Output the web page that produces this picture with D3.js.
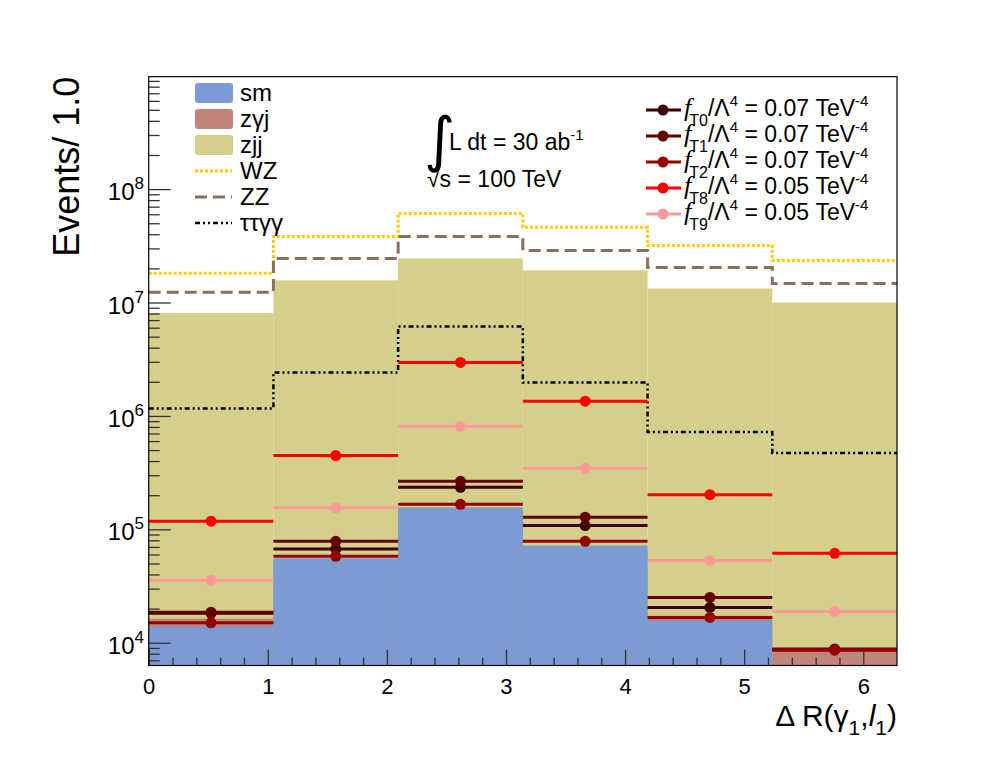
<!DOCTYPE html>
<html>
<head>
<meta charset="utf-8">
<script src="https://cdn.jsdelivr.net/npm/d3@7"></script>
<style>
  body { margin: 0; background: #fff; }
  svg { font-family: "Liberation Sans", Arial, sans-serif; }
</style>
</head>
<body>
<div id="container"></div>
<script>
// bins of Delta R, 6 bins from 0 to 2pi
const nBins = 6;
const xMax = 2 * Math.PI;

// background histograms (events per bin)
const sm   = [1.39e4, 5.55e4, 1.56e5, 7.2e4, 1.57e4, 0];
const zgj  = [1.63e4, 5.2e4, 1.45e5, 6.6e4, 1.73e4, 8.5e3];
const zjj  = [8.1e6, 1.57e7, 2.45e7, 1.92e7, 1.33e7, 1.0e7];
const wz   = [1.81e7, 3.83e7, 6.1e7, 4.6e7, 3.19e7, 2.35e7];
const zz   = [1.23e7, 2.45e7, 3.83e7, 2.88e7, 2.04e7, 1.47e7];
const ttgg = [1.16e6, 2.42e6, 6.15e6, 1.97e6, 7.2e5, 4.72e5];

// signal points
const fT0 = [1.82e4, 6.7e4, 2.35e5, 1.08e5, 2.05e4, 8.7e3];
const fT1 = [1.86e4, 7.84e4, 2.65e5, 1.28e5, 2.51e4, 8.8e3];
const fT2 = [1.5e4, 5.78e4, 1.66e5, 7.84e4, 1.67e4, 8.6e3];
const fT8 = [1.18e5, 4.47e5, 2.96e6, 1.35e6, 2.02e5, 6.14e4];
const fT9 = [3.55e4, 1.55e5, 8.1e5, 3.45e5, 5.3e4, 1.89e4];

const signalNames = ["T0", "T1", "T2", "T8", "T9"];
const signalCoupling = ["0.07", "0.07", "0.07", "0.05", "0.05"];

const xTicks = [0, 1, 2, 3, 4, 5, 6];
const yDecades = [1e4, 1e5, 1e6, 1e7, 1e8];

//THE SVG
const w = 998;
const h = 775;
const pLeft = 148.7, pRight = 897, pTop = 76.7, pBottom = 665.5;

const svg = d3.select("#container")
              .append("svg")
              .attr("width", w)
              .attr("height", h);

//THE SCALES
const xScale = d3.scaleLinear().domain([0, xMax]).range([pLeft, pRight]);
const yScale = d3.scaleLog().domain([6300, 9.8e8]).range([pBottom, pTop]);

const edges = d3.range(nBins + 1).map(i => i * xMax / nBins);
const bins = d3.range(nBins).map(i => ({lo: edges[i], hi: edges[i + 1], c: (edges[i] + edges[i + 1]) / 2}));

svg.append("clipPath").attr("id", "plot")
   .append("rect").attr("x", pLeft).attr("y", pTop).attr("width", pRight - pLeft).attr("height", pBottom - pTop);

const plot = svg.append("g").attr("clip-path", "url(#plot)");

//FILLED HISTOGRAMS (overlaid, biggest first)
function drawFilled(vals, color) {
  plot.append("g")
      .selectAll("rect")
      .data(bins.map((b, i) => ({...b, v: vals[i]})).filter(d => d.v > 0))
      .enter()
      .append("rect")
      .attr("x", d => xScale(d.lo))
      .attr("width", d => xScale(d.hi) - xScale(d.lo))
      .attr("y", d => yScale(d.v))
      .attr("height", d => pBottom - yScale(d.v))
      .attr("fill", color);
}
drawFilled(zjj, "#d4cf8a");
drawFilled(zgj, "#c0847a");
drawFilled(sm, "#7b9bd2");

//STEP LINES
const step = d3.line()
               .x(d => xScale(d[0]))
               .y(d => yScale(d[1]))
               .curve(d3.curveStepAfter);
function drawStep(vals, color, width, dash) {
  const pts = vals.map((v, i) => [edges[i], v]);
  pts.push([xMax, vals[vals.length - 1]]);
  plot.append("path")
      .attr("d", step(pts))
      .attr("fill", "none")
      .attr("stroke", color)
      .attr("stroke-width", width)
      .attr("stroke-dasharray", dash);
}
const styles = {
  wz:   {color: "#ffcc00", width: 3, dash: "3,2"},
  zz:   {color: "#8c6e5e", width: 3, dash: "12,6"},
  ttgg: {color: "#000000", width: 2.5, dash: "5,3,2,3,2,3"}
};
drawStep(wz, styles.wz.color, styles.wz.width, styles.wz.dash);
drawStep(zz, styles.zz.color, styles.zz.width, styles.zz.dash);
drawStep(ttgg, styles.ttgg.color, styles.ttgg.width, styles.ttgg.dash);

//SIGNAL POINTS
const signals = [fT0, fT1, fT2, fT8, fT9];
const signalColors = ["#400000", "#660000", "#990000", "#ff0000", "#ff9999"];
signals.forEach((vals, k) => {
  const g = plot.append("g");
  const d = bins.map((b, i) => ({...b, v: vals[i]}));
  g.selectAll("line").data(d).enter().append("line")
   .attr("x1", b => xScale(b.lo)).attr("x2", b => xScale(b.hi))
   .attr("y1", b => yScale(b.v)).attr("y2", b => yScale(b.v))
   .attr("stroke", signalColors[k]).attr("stroke-width", 3);
  g.selectAll("circle").data(d).enter().append("circle")
   .attr("cx", b => xScale(b.c)).attr("cy", b => yScale(b.v))
   .attr("r", 5.5).attr("fill", signalColors[k]);
});

//THE AXES (ROOT style, ticks inside)
const minorY = [];
[1e3, 1e4, 1e5, 1e6, 1e7, 1e8].forEach(dec => {
  for (let m = 2; m <= 9; m++) {
    const v = m * dec;
    if (v > 6300 && v < 9.8e8) minorY.push(v);
  }
});
const minorX = d3.range(0, 31).map(i => i * 0.2).filter(v => v < xMax && Math.abs(v - Math.round(v)) > 1e-6);

const axes = svg.append("g").attr("stroke-width", 1);
axes.append("g").attr("transform", `translate(${pLeft},0)`)
    .call(d3.axisLeft(yScale).tickValues(yDecades).tickSizeInner(-22).tickSizeOuter(0).tickFormat(""));
axes.append("g").attr("transform", `translate(${pLeft},0)`)
    .call(d3.axisLeft(yScale).tickValues(minorY).tickSizeInner(-11).tickSizeOuter(0).tickFormat(""));
axes.append("g").attr("transform", `translate(0,${pBottom})`)
    .call(d3.axisBottom(xScale).tickValues(xTicks).tickSizeInner(-16).tickSizeOuter(0).tickPadding(13).tickFormat(d3.format("d")))
    .selectAll("text").attr("font-size", 22).attr("font-family", "Liberation Sans, Arial, sans-serif").attr("fill", "#000");
axes.append("g").attr("transform", `translate(0,${pBottom})`)
    .call(d3.axisBottom(xScale).tickValues(minorX).tickSizeInner(-8).tickSizeOuter(0).tickFormat(""));
axes.selectAll(".domain").remove();
axes.selectAll(".tick line").attr("stroke", "#333").attr("stroke-width", 1.3);

//Y labels 10^n
const yLab = svg.append("g");
yDecades.forEach(v => {
  const t = yLab.append("text")
    .attr("x", 144).attr("y", yScale(v) + 11)
    .attr("text-anchor", "end").attr("font-size", 24);
  t.append("tspan").text("10");
  t.append("tspan").attr("dy", -11).attr("font-size", 17).text(Math.round(Math.log10(v)));
});

//FRAME
svg.append("rect")
   .attr("x", pLeft).attr("y", pTop)
   .attr("width", pRight - pLeft).attr("height", pBottom - pTop)
   .attr("fill", "none").attr("stroke", "#000").attr("stroke-width", 1.2);

//TITLES
svg.append("text")
   .attr("transform", `translate(79,${pTop}) rotate(-90)`)
   .attr("text-anchor", "end")
   .attr("font-size", 36)
   .text("Events/ 1.0");

const xt = svg.append("text")
   .attr("x", pRight).attr("y", 726)
   .attr("text-anchor", "end")
   .attr("font-size", 30);
xt.append("tspan").text("Δ R(γ");
xt.append("tspan").attr("dy", 9).attr("font-size", 21).text("1");
xt.append("tspan").attr("dy", -9).text(",");
xt.append("tspan").attr("font-style", "italic").text("l");
xt.append("tspan").attr("dy", 9).attr("font-size", 21).text("1");
xt.append("tspan").attr("dy", -9).text(")");

//LUMINOSITY TEXT
svg.append("text").attr("x", 424).attr("y", 160)
   .attr("font-family", "DejaVu Sans").attr("font-size", 60).text("∫");
const lum = svg.append("text").attr("x", 449).attr("y", 150).attr("font-size", 23);
lum.append("tspan").text("L dt = 30 ab");
lum.append("tspan").attr("dy", -10).attr("font-size", 15).text("-1");
svg.append("text").attr("x", 427).attr("y", 187).attr("font-size", 23).text("√s = 100 TeV");

//LEFT LEGEND
const legY = [93, 119, 145, 171, 197, 223];
const leg = svg.append("g");
[["sm", "#7b9bd2"], ["zγj", "#c0847a"], ["zjj", "#d4cf8a"]].forEach((e, i) => {
  leg.append("rect").attr("x", 195).attr("y", legY[i] - 10).attr("width", 38).attr("height", 20)
     .attr("rx", 3).attr("fill", e[1]);
  leg.append("text").attr("x", 240).attr("y", legY[i] + 8).attr("font-size", 24).text(e[0]);
});
[["WZ", styles.wz], ["ZZ", styles.zz], ["ττγγ", styles.ttgg]].forEach((e, j) => {
  const i = j + 3;
  leg.append("line").attr("x1", 195).attr("x2", 232).attr("y1", legY[i]).attr("y2", legY[i])
     .attr("stroke", e[1].color).attr("stroke-width", e[1].width).attr("stroke-dasharray", e[1].dash);
  leg.append("text").attr("x", 240).attr("y", legY[i] + 8).attr("font-size", 24).text(e[0]);
});

//RIGHT LEGEND
const rLegY = [110, 136, 162, 188, 214];
const rleg = svg.append("g");
signalNames.forEach((name, i) => {
  const y = rLegY[i];
  rleg.append("line").attr("x1", 646).attr("x2", 681).attr("y1", y).attr("y2", y)
      .attr("stroke", signalColors[i]).attr("stroke-width", 3);
  rleg.append("circle").attr("cx", 663).attr("cy", y).attr("r", 5.5).attr("fill", signalColors[i]);
  const t = rleg.append("text").attr("x", 684).attr("y", y + 6).attr("font-size", 23);
  t.append("tspan").attr("font-family", "Liberation Serif, serif").attr("font-style", "italic").attr("font-size", 26).text("f");
  t.append("tspan").attr("dy", 10).attr("dx", -2).attr("font-size", 16).text(name);
  t.append("tspan").attr("dy", -10).text("/Λ");
  t.append("tspan").attr("dy", -10).attr("font-size", 15).text("4");
  t.append("tspan").attr("dy", 10).text(" = " + signalCoupling[i] + " TeV");
  t.append("tspan").attr("dy", -10).attr("font-size", 15).text("-4");
});
</script>
</body>
</html>
